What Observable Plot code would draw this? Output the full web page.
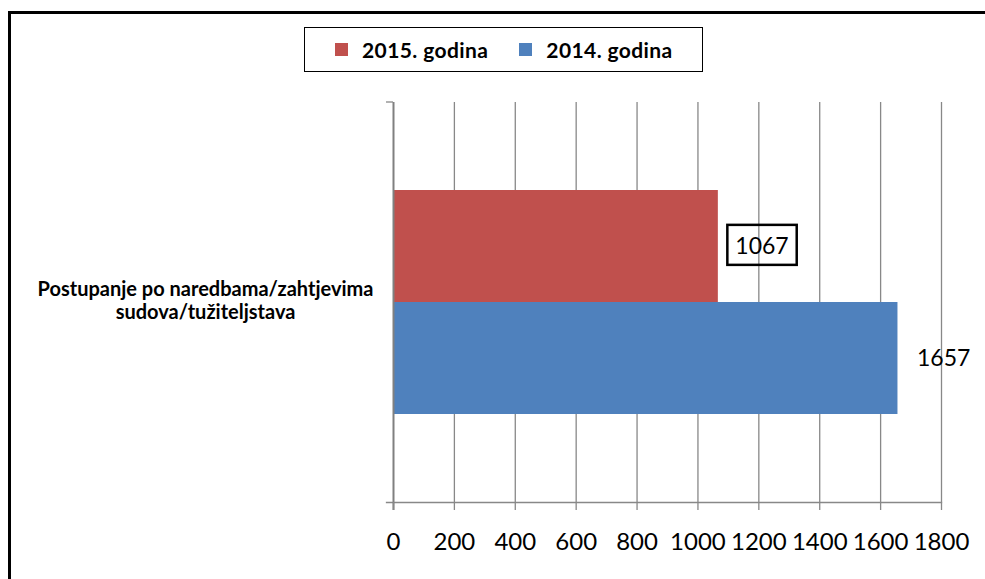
<!DOCTYPE html>
<html><head><meta charset="utf-8">
<script src="https://cdn.jsdelivr.net/npm/d3@7"></script>
<script src="https://cdn.jsdelivr.net/npm/@observablehq/plot@0.6"></script>
<style>
body{margin:0;width:985px;height:579px;overflow:hidden;background:#fff;font-family:Lato,sans-serif;position:relative}
#frame{position:absolute;left:8px;top:11px;width:1100px;height:700px;border:3px solid #000;box-sizing:border-box}
#legend{position:absolute;left:304px;top:27px;width:399px;height:45px;border:1.5px solid #000;box-sizing:border-box;display:flex;align-items:center;font-weight:bold;font-size:21px;letter-spacing:0.4px;color:#000}
#legend .sw{width:13px;height:13px;display:inline-block;margin-right:14px}
#legend .it{display:flex;align-items:center}
#chart{position:absolute;left:0;top:0}
</style></head><body>
<div id="frame"></div>
<div id="chart"></div>
<div id="legend"></div>
<script>
const categories = ["Postupanje po naredbama/zahtjevima\nsudova/tužiteljstava"];
const series = ["2015. godina", "2014. godina"];
const values = [1067, 1657];
const colors = ["#C0504D", "#4F81BD"];
const xTicks = [0, 200, 400, 600, 800, 1000, 1200, 1400, 1600, 1800];

const data = series.map((s, i) => ({category: categories[0], series: s, value: values[i]}));

// legend
const legend = document.getElementById("legend");
series.forEach((s, i) => {
  const it = document.createElement("div");
  it.className = "it";
  it.style.marginLeft = i === 0 ? "30px" : "31px";
  const sw = document.createElement("span");
  sw.className = "sw";
  sw.style.background = colors[i];
  const t = document.createElement("span");
  t.textContent = s;
  it.appendChild(sw); it.appendChild(t);
  legend.appendChild(it);
});

const plot = Plot.plot({
  width: 985, height: 579,
  marginLeft: 393, marginRight: 44, marginTop: 102, marginBottom: 77,
  style: {fontFamily: "Lato, sans-serif", background: "transparent", color: "#000"},
  x: {domain: [0, 1800], ticks: xTicks, label: null},
  y: {domain: series, paddingInner: 0, paddingOuter: 0.77, axis: null},
  color: {domain: series, range: colors},
  marks: [
    Plot.ruleX(xTicks.slice(1), {stroke: "#888", strokeWidth: 1.3}),
    Plot.barX(data, {x: "value", y: "series", fill: "series"}),
    Plot.frame({anchor: "bottom", stroke: "#888", strokeWidth: 1.3, insetLeft: -7}),
    Plot.ruleX([0], {stroke: "#808080", strokeWidth: 2, insetBottom: -8}),
    Plot.axisX({ticks: xTicks, tickSize: 8, tickPadding: 22, stroke: "#888", strokeWidth: 1.3, fill: "#000", fontSize: 24, label: null, tickFormat: d => String(d)}),
    Plot.text(categories, {frameAnchor: "left", dx: -188, dy: -2, textAnchor: "middle", fontSize: 20, fontWeight: "bold", lineHeight: 1.15, fill: "#000"}),
    Plot.text(data.filter(d => d.series === series[0]), {x: "value", y: "series", text: d => String(d.value), textAnchor: "start", dx: 17, fontSize: 23, fill: "#000"}),
    Plot.text(data.filter(d => d.series === series[1]), {x: "value", y: "series", text: d => String(d.value), textAnchor: "start", dx: 19, fontSize: 23, fill: "#000"})
  ]
});
document.getElementById("chart").appendChild(plot);

// small tick at the top of the category axis
d3.select(plot).append("line")
  .attr("x1", 386).attr("x2", 393).attr("y1", 102).attr("y2", 102)
  .attr("stroke", "#888").attr("stroke-width", 1.3);

// box around the first data label
d3.select(plot).selectAll("text").filter(function() { return this.textContent === String(values[0]); }).each(function() {
  const b = this.getBBox();
  const ctm = this.getCTM();
  d3.select(plot).append("rect")
    .attr("x", b.x + ctm.e - 8).attr("y", b.y + ctm.f - 6)
    .attr("width", b.width + 16).attr("height", b.height + 12)
    .attr("fill", "none").attr("stroke", "#000").attr("stroke-width", 2.5);
});
</script>
</body></html>
